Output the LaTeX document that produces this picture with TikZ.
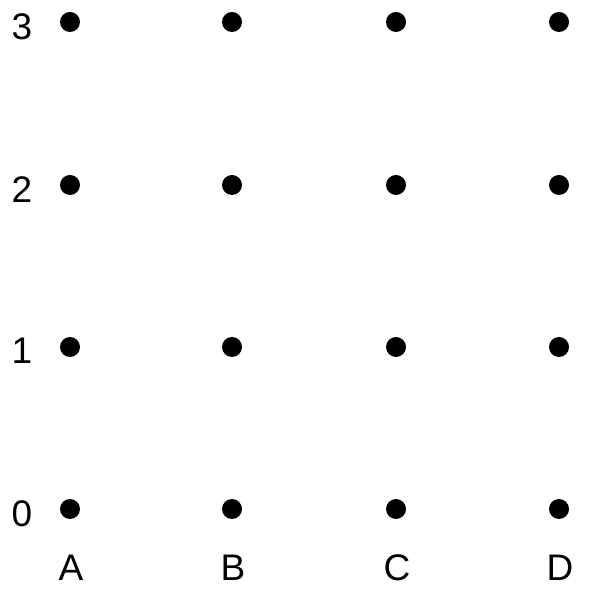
\documentclass[tikz,border=0pt]{standalone}
\usepackage{fontspec}
\setmainfont{Liberation Sans}
\usepackage{tikz}
\usetikzlibrary{positioning}

\begin{document}
\begin{tikzpicture}[x=1pt, y=1pt,
    every node/.style={font=\fontsize{37}{37}\selectfont},
    gridpt/.style={circle, fill=black, inner sep=0pt, minimum size=20pt}]
  \useasboundingbox (0,0) rectangle (596,588);
  % dots, one column per letter
  \foreach \c/\x in {A/70,B/232,C/396,D/559} {
    \foreach \r/\y in {0/79,1/241,2/403,3/566} {
      \node[gridpt] (pt-\c-\r) at (\x,\y) {};
    }
    \node (lbl-\c) at (\x+1,20) {\c};
  }
  % row numbers
  \foreach \r/\y in {0/74,1/237,2/398,3/561} {
    \node (num-\r) at (22,\y) {\r};
  }
\end{tikzpicture}
\end{document}
